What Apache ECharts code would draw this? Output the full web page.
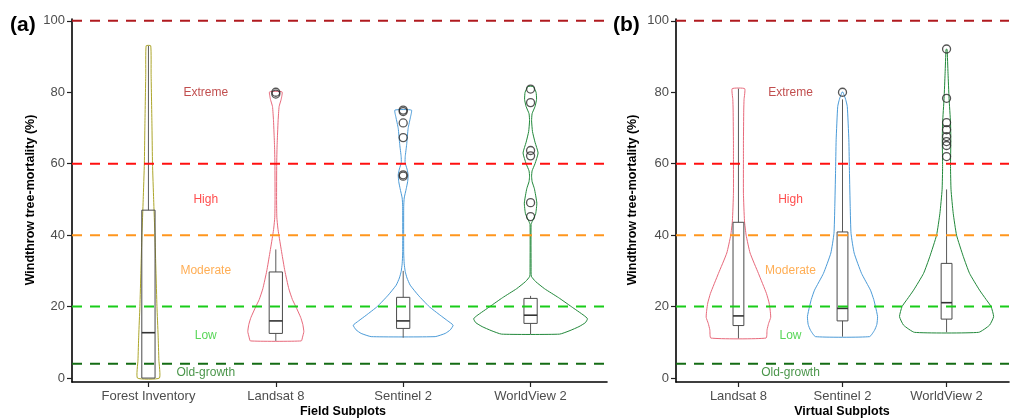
<!DOCTYPE html>
<html><head><meta charset="utf-8">
<script src="https://cdn.jsdelivr.net/npm/echarts@6/dist/echarts.min.js"></script>
<style>html,body{margin:0;padding:0;background:#fff}#c{width:1011px;height:420px}</style>
</head><body><div id="c"></div>
<script>
// ---------------- DATA ----------------
const fieldCategories = ['Forest Inventory', 'Landsat 8', 'Sentinel 2', 'WorldView 2'];
const virtualCategories = ['Landsat 8', 'Sentinel 2', 'WorldView 2'];
const yTicks = [0, 20, 40, 60, 80, 100];
const thresholdValues = [100, 60, 40, 20, 4];
const classNames = ['Extreme', 'High', 'Moderate', 'Low', 'Old-growth'];
const classLabelValues = [80, 50, 30, 12, 1.5];

// violin density profiles, top to bottom: [mortality %, half-width in category units]
const fieldForestInventory = [[93,0.018],[85,0.021],[70,0.028],[60,0.032],[50,0.041],[40,0.051],[30,0.059],[20,0.067],[12,0.076],[5,0.082],[0,0.086]];
const fieldLandsat8 = [[80.1,0.049],[78,0.042],[76,0.026],[72,0.018],[69.5,0.015],[65,0.01],[60,0.007],[50,0.006],[45,0.008],[42,0.016],[40,0.024],[35,0.047],[30,0.071],[25,0.102],[22,0.13],[20,0.157],[17,0.195],[15,0.212],[13,0.22],[11.5,0.21],[10.4,0.2]];
const fieldSentinel2 = [[75,0.065],[73,0.057],[69.9,0.039],[65.3,0.027],[62,0.016],[60.3,0.015],[58.5,0.03],[56.9,0.039],[55,0.035],[53,0.024],[50.4,0.008],[48,0.004],[35,0.004],[32,0.008],[29.8,0.016],[28,0.03],[26,0.055],[23.2,0.118],[20,0.204],[17.6,0.29],[16,0.35],[14.8,0.392],[13.5,0.37],[12.5,0.33],[11.6,0.251]];
const fieldWorldView2 = [[81.6,0.02],[80,0.043],[78,0.047],[76,0.035],[74,0.012],[72,0.008],[69,0.015],[66,0.035],[63,0.059],[60,0.035],[58,0.012],[56.5,0.008],[55,0.012],[53,0.03],[49,0.049],[46,0.04],[44,0.015],[43,0.004],[31,0.004],[28.5,0.006],[27,0.04],[25,0.11],[22.5,0.22],[20,0.32],[17.5,0.42],[16.6,0.447],[15.5,0.43],[14.4,0.38],[13.3,0.31],[12.3,0.228]];
const virtualLandsat8 = [[81,0.06],[78,0.054],[75,0.051],[65.7,0.048],[60,0.048],[51.7,0.048],[44,0.058],[40,0.074],[35,0.112],[29.3,0.192],[23.7,0.269],[21,0.295],[19,0.305],[17,0.31],[15.3,0.29],[13.5,0.275],[11.2,0.265]];
const virtualSentinel2 = [[80,0.005],[78,0.03],[76,0.046],[66.7,0.061],[57.3,0.067],[48,0.074],[40.5,0.082],[35,0.112],[29.3,0.183],[24.6,0.269],[22,0.3],[20,0.317],[17.2,0.337],[15,0.33],[13.4,0.308],[11.6,0.26]];
const virtualWorldView2 = [[92,0.005],[85.3,0.014],[78.3,0.024],[71.5,0.038],[66.7,0.041],[59.2,0.038],[52.7,0.043],[46.1,0.064],[40,0.096],[34,0.161],[29.3,0.221],[24.6,0.317],[22,0.38],[20,0.428],[17.2,0.452],[14.8,0.413],[12.8,0.308]];

// boxplot stats: [lower whisker, Q1, median, Q3, upper whisker]
const fieldBoxStats = [[0,0,12.7,47,93],[10.4,12.5,16,29.7,36],[11.3,13.9,16,22.6,30],[12.3,15.3,17.6,22.3,23]];
const virtualBoxStats = [[11.1,14.7,17.4,43.6,81],[11.6,16,19.5,40.9,78],[12.8,16.5,21.1,32.1,52.8]];

// outliers
const fieldOutliers = [[], [80.0,79.5], [75.0,74.6,71.4,67.3,56.9,56.5], [80.9,77.1,63.7,62.2,49.1,45.2]];
const virtualOutliers = [[], [80.0], [92.1,78.3,71.5,69.5,67.6,66.2,65.1,62.0]];

// ---------------- STYLE ----------------
const fieldViolins = [fieldForestInventory, fieldLandsat8, fieldSentinel2, fieldWorldView2];
const virtualViolins = [virtualLandsat8, virtualSentinel2, virtualWorldView2];
const catColor = {'Forest Inventory':'#ada62a','Landsat 8':'#e8697b','Sentinel 2':'#4b9bd8','WorldView 2':'#21883a'};
const lineColors = ['#b01a1f','#ff1010','#ff961e','#19cc19','#146c14'];
const textColors = ['#b22222','#ff2020','#ff9a2a','#2ecc2e','#1b7a1b'];
const FONT = 'Liberation Sans, Arial, sans-serif';

const chart = echarts.init(document.getElementById('c'), null, {renderer:'canvas'});

function violinRender(profiles, cats){
  return function(params, api){
    const i = params.dataIndex, x = i + 1, prof = profiles[i];
    const pts = [];
    for (const [v,w] of prof) pts.push(api.coord([x + w, v]));
    for (let k = prof.length - 1; k >= 0; k--) pts.push(api.coord([x - prof[k][1], prof[k][0]]));
    return {type:'polygon', shape:{points:pts, smooth:0.15}, style:{fill:'none', stroke:catColor[cats[i]], lineWidth:1}};
  };
}
function boxRender(stats){
  return function(params, api){
    const i = params.dataIndex, x = i + 1, s = stats[i], hw = 0.052;
    const c = (a,b) => api.coord([a,b]);
    const st = {stroke:'#4a4a4a', lineWidth:1, fill:'none'};
    const p1 = c(x - hw, s[3]), p2 = c(x + hw, s[1]);
    return {type:'group', children:[
      {type:'line', shape:{x1:c(x,s[0])[0], y1:c(x,s[0])[1], x2:c(x,s[1])[0], y2:c(x,s[1])[1]}, style:{stroke:'#5a5a5a', lineWidth:1}},
      {type:'line', shape:{x1:c(x,s[3])[0], y1:c(x,s[3])[1], x2:c(x,s[4])[0], y2:c(x,s[4])[1]}, style:{stroke:'#5a5a5a', lineWidth:1}},
      {type:'rect', shape:{x:p1[0], y:p1[1], width:p2[0]-p1[0], height:p2[1]-p1[1]}, style:st},
      {type:'line', shape:{x1:c(x-hw,s[2])[0], y1:c(x-hw,s[2])[1], x2:c(x+hw,s[2])[0], y2:c(x+hw,s[2])[1]}, style:{stroke:'#333', lineWidth:1.6}}
    ]};
  };
}

function panelSeries(gi, cats, violins, stats, outliers, xmax, labelX){
  const s = [];
  s.push({type:'custom', xAxisIndex:gi, yAxisIndex:gi, renderItem:violinRender(violins, cats),
    data:cats.map((c,i)=>[i+1, 50]), silent:true, z:2});
  s.push({type:'custom', xAxisIndex:gi, yAxisIndex:gi, renderItem:boxRender(stats),
    data:cats.map((c,i)=>[i+1, 50]), silent:true, z:3});
  const od = [];
  outliers.forEach((arr,i)=>arr.forEach(v=>od.push([i+1, v])));
  s.push({type:'scatter', xAxisIndex:gi, yAxisIndex:gi, data:od, symbol:'circle', symbolSize:8,
    itemStyle:{color:'rgba(0,0,0,0)', borderColor:'#2b2b2b', borderWidth:1.3}, silent:true, z:4});
  thresholdValues.forEach((v,k)=>{
    s.push({type:'line', xAxisIndex:gi, yAxisIndex:gi, data:[[0.4,v],[xmax,v]], symbol:'none', silent:true,
      lineStyle:{color:lineColors[k], width:2, type:[10,8]}, z:5});
  });
  s.push({type:'scatter', xAxisIndex:gi, yAxisIndex:gi, symbolSize:0, silent:true, z:6,
    data:classNames.map((n,k)=>({value:[labelX, classLabelValues[k]], name:n,
      label:{show:true, position:'inside', formatter:n, color:textColors[k], fontSize:12, fontFamily:FONT}}))});
  return s;
}

function xAxisFor(gi, cats, xmax){
  const vals = cats.map((c,i)=>i+1);
  return {type:'value', gridIndex:gi, min:0.4, max:xmax, splitLine:{show:false},
    axisLine:{onZero:false, lineStyle:{color:'#000', width:1.6}},
    axisTick:{customValues:vals, length:5, lineStyle:{color:'#222', width:1.2}},
    axisLabel:{customValues:vals, formatter:v=>cats[Math.round(v)-1], color:'#4d4d4d', fontSize:13, fontFamily:FONT, margin:8}};
}
function yAxisFor(gi){
  return {type:'value', gridIndex:gi, min:-1.1, max:100.5, splitLine:{show:false},
    axisLine:{onZero:false, lineStyle:{color:'#000', width:1.6}},
    axisTick:{customValues:yTicks, length:5, lineStyle:{color:'#222', width:1.2}},
    axisLabel:{customValues:yTicks, color:'#4d4d4d', fontSize:13, fontFamily:FONT, margin:7}};
}

const option = {
  animation:false,
  backgroundColor:'#fff',
  grid:[
    {left:72, top:19, width:535, height:363},
    {left:676, top:19, width:333, height:363}
  ],
  xAxis:[xAxisFor(0, fieldCategories, 4.6), xAxisFor(1, virtualCategories, 3.6)],
  yAxis:[yAxisFor(0), yAxisFor(1)],
  series:[].concat(
    panelSeries(0, fieldCategories, fieldViolins, fieldBoxStats, fieldOutliers, 4.6, 1.45),
    panelSeries(1, virtualCategories, virtualViolins, virtualBoxStats, virtualOutliers, 3.6, 1.5)
  ),
  graphic:[
    {type:'text', left:10, top:15, style:{text:'(a)', font:'bold 21px '+FONT, fill:'#000'}},
    {type:'text', left:613, top:15, style:{text:'(b)', font:'bold 21px '+FONT, fill:'#000'}},
    {type:'text', x:31, y:200, rotation:Math.PI/2, style:{text:'Windthrow tree-mortality (%)', font:'bold 12.5px '+FONT, fill:'#000', align:'center', verticalAlign:'middle'}},
    {type:'text', x:633, y:200, rotation:Math.PI/2, style:{text:'Windthrow tree-mortality (%)', font:'bold 12.5px '+FONT, fill:'#000', align:'center', verticalAlign:'middle'}},
    {type:'text', x:343, y:412, style:{text:'Field Subplots', font:'bold 12.5px '+FONT, fill:'#000', align:'center', verticalAlign:'middle'}},
    {type:'text', x:842, y:412, style:{text:'Virtual Subplots', font:'bold 12.5px '+FONT, fill:'#000', align:'center', verticalAlign:'middle'}}
  ]
};
chart.setOption(option);
</script></body></html>
